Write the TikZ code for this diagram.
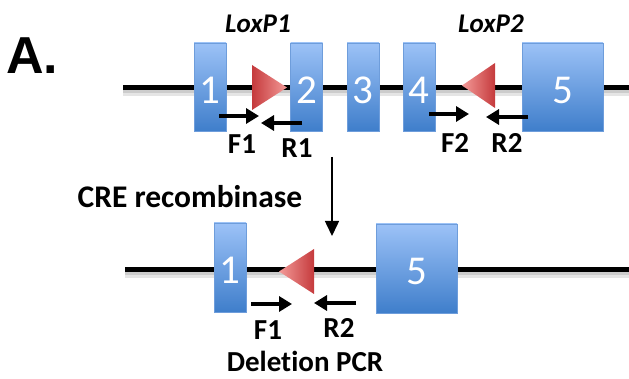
\documentclass[tikz,border=0pt]{standalone}
\usepackage{fontspec}
\setmainfont[Ligatures=NoCommon]{Carlito}
\newfontfamily\arialb{Liberation Sans}
\usetikzlibrary{arrows.meta}
\definecolor{exontop}{HTML}{9CC2F7}
\definecolor{exonbot}{HTML}{3F7ECB}
\definecolor{exonedge}{HTML}{6E9DDB}
\definecolor{loxdark}{HTML}{C53A3C}
\definecolor{loxlight}{HTML}{F39A98}
\tikzset{
  exon/.style={rectangle, draw=exonedge, line width=0.8pt, top color=exontop, bottom color=exonbot, inner sep=0pt},
  num/.style={text=white, font=\fontsize{41}{41}\selectfont, inner sep=0pt},
  dna/.style={line width=5pt, black},
  dnashadow/.style={line width=9pt, black!10},
  dnashadowb/.style={line width=5pt, black!20},
  primer/.style={line width=4.4pt, -{Triangle[length=13pt,width=15pt]}},
  lbl/.style={font=\bfseries\fontsize{29}{29}\selectfont, inner sep=0pt},
  lox/.style={font=\bfseries\itshape\fontsize{27}{27}\selectfont, inner sep=0pt},
}
\begin{document}
\begin{tikzpicture}[x=1pt,y=-1pt]
\useasboundingbox (0,0) rectangle (629,379);
% panel letter
\node[font=\arialb\bfseries\fontsize{52}{52}\selectfont, inner sep=0pt] (A) at (32,56) {A.};
% ---------- top construct ----------
\coordinate (t0) at (123,88);
\coordinate (t1) at (629,88);
\draw[dnashadow] ([yshift=-4pt]t0) -- ([yshift=-4pt]t1);
\draw[dnashadowb] ([yshift=-3pt]t0) -- ([yshift=-3pt]t1);
\draw[dna] (t0) -- (t1);
\node[exon, minimum width=32pt, minimum height=88pt] (e1) at (210,87) {};
\node[exon, minimum width=32pt, minimum height=88pt] (e2) at (306.5,87) {};
\node[exon, minimum width=32pt, minimum height=88pt] (e3) at (363,87) {};
\node[exon, minimum width=32pt, minimum height=88pt] (e4) at (419,87) {};
\node[exon, minimum width=81pt, minimum height=88pt] (e5) at (562.5,87) {};
\node[num] (n1) at ([yshift=-3pt]e1.center) {1};
\node[num] (n2) at ([yshift=-3pt]e2.center) {2};
\node[num] (n3) at ([yshift=-3pt]e3.center) {3};
\node[num] (n4) at ([yshift=-3pt]e4.center) {4};
\node[num] (n5) at ([yshift=-3pt]e5.center) {5};
% loxP sites
\shade[left color=loxdark, right color=loxlight] (252,65) -- (287,87.5) -- (252,110) -- cycle;
\shade[left color=loxlight, right color=loxdark] (495,63) -- (462,85.5) -- (495,108) -- cycle;
\node[lox] (lx1) at (258,24) {LoxP1};
\node[lox] (lx2) at (491,24) {LoxP2};
% primers
\coordinate (f1a) at (219,116); \coordinate (f1b) at (259,116);
\coordinate (r1a) at (302,123); \coordinate (r1b) at (261,123);
\coordinate (f2a) at (429,114); \coordinate (f2b) at (469,114);
\coordinate (r2a) at (528,117); \coordinate (r2b) at (486,117);
\draw[primer] (f1a) -- (f1b);
\draw[primer] (r1a) -- (r1b);
\draw[primer] (f2a) -- (f2b);
\draw[primer] (r2a) -- (r2b);
\node[lbl] (F1) at (242,144) {F1};
\node[lbl] (R1) at (297,148) {R1};
\node[lbl] (F2) at (455,143) {F2};
\node[lbl] (R2) at (507,143) {R2};
% ---------- recombination arrow ----------
\coordinate (va) at (332,157);
\coordinate (vb) at (332,236);
\draw[line width=1.5pt, -{Triangle[length=15pt,width=14pt]}] (va) -- (vb);
\node[lbl, font=\bfseries\fontsize{31.5}{31.5}\selectfont] (cre) at (190,197) {CRE recombinase};
% ---------- bottom construct ----------
\coordinate (b0) at (125,270);
\coordinate (b1) at (629,270);
\draw[dnashadow] ([yshift=-4pt]b0) -- ([yshift=-4pt]b1);
\draw[dnashadowb] ([yshift=-3pt]b0) -- ([yshift=-3pt]b1);
\draw[dna] (b0) -- (b1);
\node[exon, minimum width=32pt, minimum height=89pt] (d1) at (230,267.5) {};
\node[exon, minimum width=81pt, minimum height=89pt] (d5) at (416.5,268.5) {};
\node[num] (m1) at ([yshift=-3pt]d1.center) {1};
\node[num] (m5) at ([yshift=-3pt]d5.center) {5};
\shade[left color=loxlight, right color=loxdark] (314,249) -- (279,271.5) -- (314,294) -- cycle;
\coordinate (g1a) at (251,304); \coordinate (g1b) at (292,304);
\coordinate (g2a) at (356,303); \coordinate (g2b) at (314,303);
\draw[primer] (g1a) -- (g1b);
\draw[primer] (g2a) -- (g2b);
\node[lbl] (F1b) at (268,330) {F1};
\node[lbl] (R2b) at (339,328) {R2};
\node[lbl] (pcr) at (305,361) {Deletion PCR};
\end{tikzpicture}
\end{document}
